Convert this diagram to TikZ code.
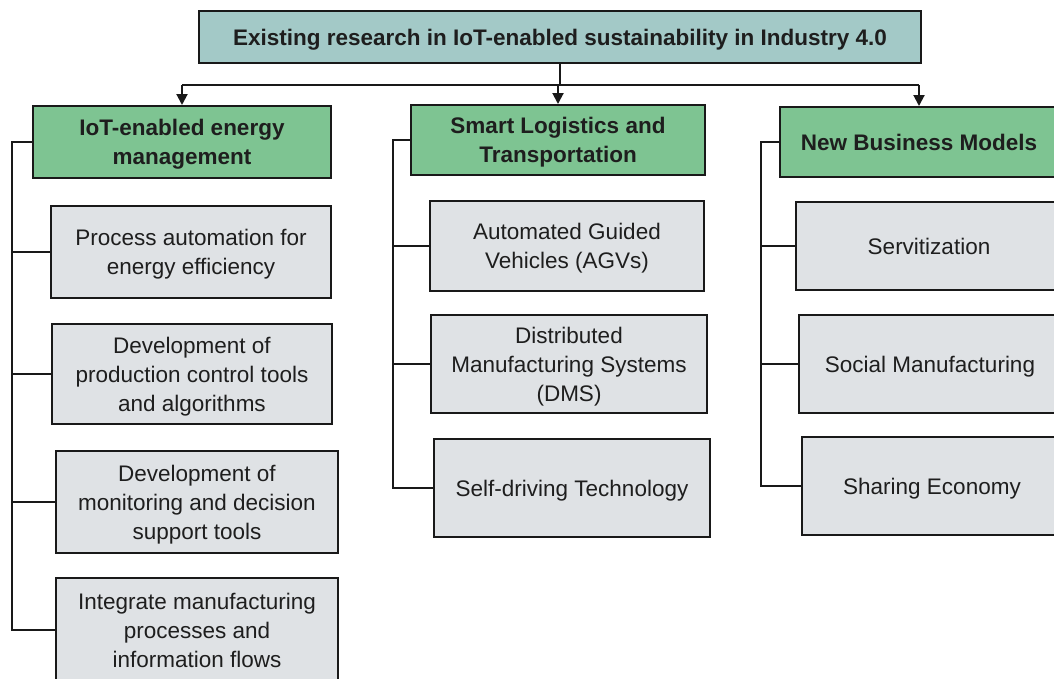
\documentclass[tikz,border=0pt]{standalone}
\usepackage{fontspec}
\setmainfont{Liberation Sans}
\usetikzlibrary{arrows.meta}
\definecolor{topc}{RGB}{163,201,199}
\definecolor{greenc}{RGB}{126,196,146}
\definecolor{grayc}{RGB}{223,226,229}
\definecolor{edgec}{RGB}{25,25,25}
\definecolor{txtc}{RGB}{30,30,30}
\tikzset{
  basebox/.style={draw=edgec, line width=2pt, inner sep=0pt, align=center, text=txtc,
    text depth=0pt, font=\fontsize{22.5}{29}\selectfont},
  topbox/.style={basebox, fill=topc, font=\fontsize{22.5}{29}\selectfont\bfseries},
  catbox/.style={basebox, fill=greenc, font=\fontsize{22.5}{29}\selectfont\bfseries},
  itembox/.style={basebox, fill=grayc},
  conn/.style={draw=edgec, line width=2pt},
  arr/.style={conn, -{Triangle[width=11pt,length=11pt]}}
}
\begin{document}
\begin{tikzpicture}[x=1pt,y=-1pt]
\useasboundingbox (0,0) rectangle (1054,678);
\clip (0,0) rectangle (1054,678);
\fill[white] (0,0) rectangle (1054,678);

\node[topbox, minimum width=722, minimum height=52] (top) at (560,37) {Existing research in IoT-enabled sustainability in Industry 4.0};

\node[catbox, minimum width=298, minimum height=72] (g1) at (182,142) {IoT-enabled energy\\management};
\node[catbox, minimum width=294, minimum height=70] (g2) at (558,140) {Smart Logistics and\\Transportation};
\node[catbox, minimum width=278, minimum height=70] (g3) at (919,142) {New Business Models};

\node[itembox, minimum width=280, minimum height=92] (c11) at (191,252) {Process automation for\\energy efficiency};
\node[itembox, minimum width=280, minimum height=100] (c12) at (192,374) {Development of\\production control tools\\and algorithms};
\node[itembox, minimum width=282, minimum height=102] (c13) at (197,502) {Development of\\monitoring and decision\\support tools};
\node[itembox, minimum width=282, minimum height=104] (c14) at (197,630) {Integrate manufacturing\\processes and\\information flows};

\node[itembox, minimum width=274, minimum height=90] (c21) at (567,246) {Automated Guided\\Vehicles (AGVs)};
\node[itembox, minimum width=276, minimum height=98] (c22) at (569,364) {Distributed\\Manufacturing Systems\\(DMS)};
\node[itembox, minimum width=276, minimum height=98] (c23) at (572,488) {Self-driving Technology};

\node[itembox, minimum width=266, minimum height=88] (c31) at (929,246) {Servitization};
\node[itembox, minimum width=262, minimum height=98] (c32) at (930,364) {Social Manufacturing};
\node[itembox, minimum width=260, minimum height=98] (c33) at (932,486) {Sharing Economy};

% top bus
\coordinate (bus) at (0,85);
\coordinate (sp1) at (12,0);
\coordinate (sp2) at (393,0);
\coordinate (sp3) at (761,0);

\draw[conn] (top.south) -- (top.south |- bus);
\draw[conn] (g1.north |- bus) -- (g3.north |- bus);
\draw[arr] (g1.north |- bus) -- (g1.north);
\draw[arr] (g2.north |- bus) -- (g2.north);
\draw[arr] (g3.north |- bus) -- (g3.north);

% spines
\draw[conn] (g1.west) -| (sp1 |- c14.west) -- (c14.west);
\draw[conn] (c11.west) -- (c11.west -| sp1);
\draw[conn] (c12.west) -- (c12.west -| sp1);
\draw[conn] (c13.west) -- (c13.west -| sp1);

\draw[conn] (g2.west) -| (sp2 |- c23.west) -- (c23.west);
\draw[conn] (c21.west) -- (c21.west -| sp2);
\draw[conn] (c22.west) -- (c22.west -| sp2);

\draw[conn] (g3.west) -| (sp3 |- c33.west) -- (c33.west);
\draw[conn] (c31.west) -- (c31.west -| sp3);
\draw[conn] (c32.west) -- (c32.west -| sp3);
\end{tikzpicture}
\end{document}
